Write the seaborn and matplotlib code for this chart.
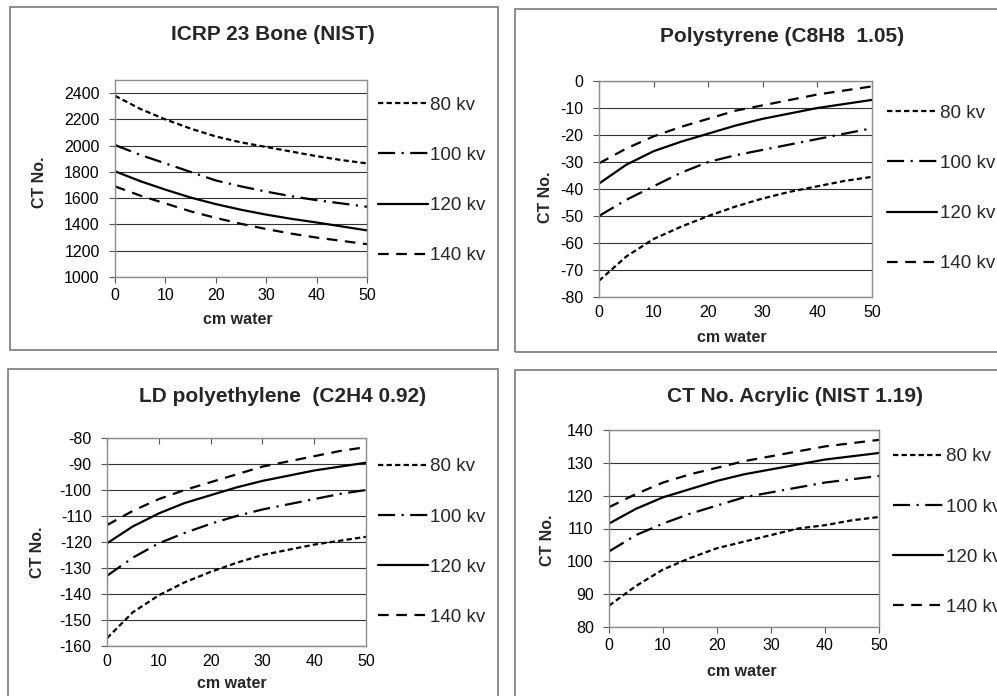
import numpy as np
import pandas as pd
import matplotlib
matplotlib.use("Agg")
import matplotlib.pyplot as plt
from matplotlib.patches import Rectangle
import seaborn as sns

sns.set_theme(style="white")
plt.rcParams['font.family'] = ['Liberation Sans', 'DejaVu Sans']
plt.rcParams['axes.unicode_minus'] = False

# ---------------- data ----------------
cm_water = [0, 5, 10, 15, 20, 25, 30, 35, 40, 45, 50]
kv_labels = ["80 kv", "100 kv", "120 kv", "140 kv"]

bone_80 = [2380, 2280, 2200, 2130, 2070, 2025, 1990, 1955, 1920, 1890, 1865]
bone_100 = [2005, 1930, 1865, 1800, 1735, 1690, 1650, 1615, 1585, 1560, 1535]
bone_120 = [1805, 1730, 1665, 1605, 1555, 1512, 1475, 1443, 1415, 1385, 1355]
bone_140 = [1690, 1620, 1560, 1500, 1450, 1405, 1365, 1330, 1300, 1275, 1250]

ps_80 = [-74, -65, -58.5, -54, -50, -46.5, -43.5, -41, -39, -37, -35.5]
ps_100 = [-50, -44, -39, -34, -30, -27.5, -25.5, -23.5, -21.5, -19.5, -17.5]
ps_120 = [-38, -31, -26, -22.5, -19.5, -16.5, -14, -12, -10, -8.5, -7]
ps_140 = [-30.5, -25, -20.5, -17, -14, -11, -9, -7, -5, -3.5, -2]

pe_80 = [-157, -147, -140.5, -135.5, -131.5, -128, -125, -123, -121, -119.5, -118]
pe_100 = [-133, -126, -120.5, -116.5, -113, -110, -107.5, -105.5, -103.5, -101.5, -100]
pe_120 = [-120.5, -114, -109, -105, -102, -99, -96.5, -94.5, -92.5, -91, -89.5]
pe_140 = [-113.5, -108, -103.5, -100, -97, -94, -91, -89, -87, -85, -83.5]

ac_80 = [86.5, 92.5, 97.5, 101, 104, 106, 108, 110, 111, 112.5, 113.5]
ac_100 = [103, 108, 111.5, 114.5, 117, 119.5, 121, 122.5, 124, 125, 126]
ac_120 = [111.5, 116, 119.5, 122, 124.5, 126.5, 128, 129.5, 131, 132, 133]
ac_140 = [116.5, 120.5, 124, 126.5, 128.5, 130.5, 132, 133.5, 135, 136, 137]

titles = ["ICRP 23 Bone (NIST)", "Polystyrene (C8H8  1.05)",
          "LD polyethylene  (C2H4 0.92)", "CT No. Acrylic (NIST 1.19)"]
yticks_list = [list(range(1000, 2401, 200)), list(range(-80, 1, 10)),
               list(range(-160, -79, 10)), list(range(80, 141, 10))]
ylims = [(1000, 2500), (-80, 0), (-160, -80), (80, 140)]
xticks = [0, 10, 20, 30, 40, 50]

series = [
    [bone_80, bone_100, bone_120, bone_140],
    [ps_80, ps_100, ps_120, ps_140],
    [pe_80, pe_100, pe_120, pe_140],
    [ac_80, ac_100, ac_120, ac_140],
]

# ---------------- layout ----------------
W, H = 997, 696
fig = plt.figure(figsize=(W / 100, H / 100), dpi=100)

def fx(px):
    return px / W

def fy(py):
    return 1 - py / H

# panel frames (x0, y0, x1, y1) in px
frames = [(10, 7, 497.5, 350), (515, 9, 1010, 352),
          (8, 369, 497.5, 710), (515, 370, 1010, 710)]
for (x0, y0, x1, y1) in frames:
    fig.patches.append(Rectangle((fx(x0), fy(y1)), fx(x1 - x0), (y1 - y0) / H,
                                 transform=fig.transFigure, fill=False,
                                 edgecolor="#7a7a7a", linewidth=1.2, zorder=0))

# plot areas (x0, y0, x1, y1) px
areas = [(115, 80, 367, 277), (599, 81, 872, 297),
         (107, 438, 366, 646), (609, 430, 879, 627)]
title_pos = [(273, 35), (782, 37), (283, 397), (795, 397)]
ylab_pos = [(40, 182), (545, 197), (38, 552), (547, 540)]
xlab_pos = [(238, 319), (732, 338), (232, 684), (742, 672)]
legend_pos = [(378, 180.5), (887, 188.5), (378, 542), (893, 532)]
ticks_top = [False, True, True, False]

dash_map = {"80 kv": (2.4, 1.44), "100 kv": (7.7, 2.9, 1.0, 2.9),
            "120 kv": "", "140 kv": (4.8, 3.4)}

for i in range(4):
    x0, y0, x1, y1 = areas[i]
    ax = fig.add_axes([fx(x0), fy(y1), fx(x1 - x0), (y1 - y0) / H])
    rows = []
    for lab, vals in zip(kv_labels, series[i]):
        for c, v in zip(cm_water, vals):
            rows.append({"cm": c, "ct": v, "kv": lab})
    df = pd.DataFrame(rows)
    sns.lineplot(data=df, x="cm", y="ct", style="kv", style_order=kv_labels,
                 dashes=dash_map, color="black", linewidth=1.6, ax=ax,
                 legend=False)
    ax.set_xlim(0, 50)
    ax.set_ylim(*ylims[i])
    ax.set_xticks(xticks)
    ax.set_yticks(yticks_list[i])
    ax.tick_params(axis="both", labelsize=11.5, colors="black")
    ax.tick_params(axis="y", left=True, direction="out", length=4, width=0.8,
                   color="#555555", pad=7)
    if ticks_top[i]:
        ax.tick_params(axis="x", bottom=False, top=True, direction="in",
                       length=4, width=0.8, color="#555555",
                       labelbottom=True, labeltop=False, pad=6)
    else:
        ax.tick_params(axis="x", bottom=True, direction="out", length=4,
                       width=0.8, color="#555555", pad=4)
    ax.grid(axis="y", color="#333333", linewidth=0.8)
    ax.grid(axis="x", visible=False)
    for s in ax.spines.values():
        s.set_color("#8c8c8c")
        s.set_linewidth(1.0)

    # axis labels
    lx, ly = xlab_pos[i]
    ax.set_xlabel("cm water", fontsize=11.5, fontweight="bold", va="center")
    ax.xaxis.set_label_coords((lx - x0) / (x1 - x0), (y1 - ly) / (y1 - y0))
    yx, yy = ylab_pos[i]
    ax.set_ylabel("CT No.", fontsize=11.5, fontweight="bold", va="center")
    ax.yaxis.set_label_coords((yx - x0) / (x1 - x0), (y1 - yy) / (y1 - y0))

    # title
    tx, ty = title_pos[i]
    fig.text(fx(tx), fy(ty), titles[i], ha="center", va="center",
             fontsize=15, fontweight="bold")

    # legend
    handles = ax.get_lines()[:4]
    lgx, lgy = legend_pos[i]
    ax.legend(handles, kv_labels, loc="center left",
              bbox_to_anchor=(fx(lgx), fy(lgy)), bbox_transform=fig.transFigure,
              frameon=False, fontsize=13.5, handlelength=2.65,
              handletextpad=0.15, labelspacing=1.76, borderpad=0,
              borderaxespad=0)

fig.savefig("out.png", dpi=100)
